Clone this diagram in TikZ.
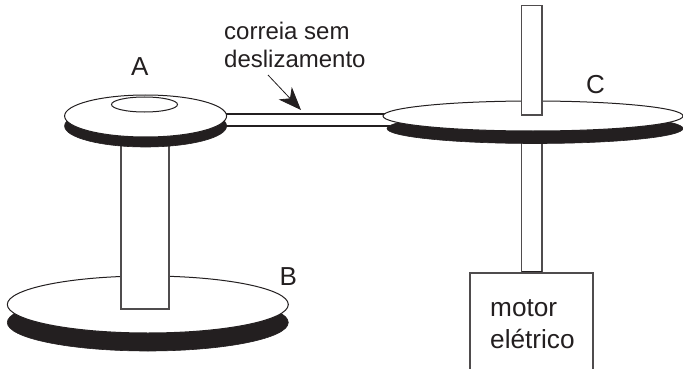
\documentclass[tikz,border=0pt]{standalone}
\usepackage{fontspec}
\setmainfont{Liberation Sans}
\usetikzlibrary{arrows.meta}
\definecolor{ink}{HTML}{231F20}
\tikzset{
  x=1pt,y=-1pt,
  outline/.style={draw=ink,line width=1pt,fill=white},
  rim/.style={draw=ink,line width=0.6pt,fill=ink},
  shaftbox/.style={draw=ink!80,line width=1.2pt,fill=white},
  belt/.style={draw=ink,line width=1.3pt},
  lab/.style={inner sep=0pt,anchor=base west,text=ink,font=\fontsize{24}{28}\selectfont},
  letter/.style={inner sep=0pt,anchor=base west,text=ink,font=\fontsize{26}{30}\selectfont},
  big/.style={inner sep=0pt,anchor=base west,text=ink,font=\fontsize{26.2}{32}\selectfont},
}
\begin{document}
\begin{tikzpicture}
\useasboundingbox (0,0) rectangle (683,369);
% belt
\draw[belt] (225,114) -- (386,114);
\draw[belt,line width=1.7pt] (225,126) -- (390,126);
% disc B
\draw[rim] (147.8,322.5) ellipse [x radius=140.5,y radius=28.5];
\draw[outline] (147.8,304.5) ellipse [x radius=140.5,y radius=28.5];
% shaft A-B
\draw[shaftbox] (121,140) rectangle (169,309);
% disc A
\draw[rim] (145.6,126) ellipse [x radius=81,y radius=21];
\draw[outline] (145.6,116) ellipse [x radius=81,y radius=21];
\draw[outline] (144.5,104.5) ellipse [x radius=33,y radius=7.5];
% shaft to motor and motor
\draw[shaftbox] (521.5,140) rectangle (542,272);
\draw[line width=1.5pt,draw=ink] (521.5,272) -- (542,272);
\draw[draw=ink!80,line width=1.2pt] (470,369) -- (470,273) -- (593,273) -- (593,369);
% disc C
\draw[rim] (535,128.5) ellipse [x radius=148,y radius=15];
\draw[outline] (533,116) ellipse [x radius=150,y radius=15];
\draw[shaftbox] (521.5,5.5) rectangle (542,115);
% leader
\coordinate (tail) at (268,75);
\coordinate (head) at (301,110);
\draw[draw=ink,line width=0.8pt,-{Stealth[length=23pt,width=18pt,inset=7pt]}] (tail) -- (head);
% labels
\node[letter] (a) at (131,76) {A};
\node[letter] (b) at (279.5,285) {B};
\node[letter] (c) at (586,93) {C};
\node[lab] (belt1) at (224,40) {correia sem};
\node[lab] (belt2) at (224,68) {deslizamento};
\node[big] (m1) at (490,316) {motor};
\node[big] (m2) at (490,348) {elétrico};
\end{tikzpicture}
\end{document}
